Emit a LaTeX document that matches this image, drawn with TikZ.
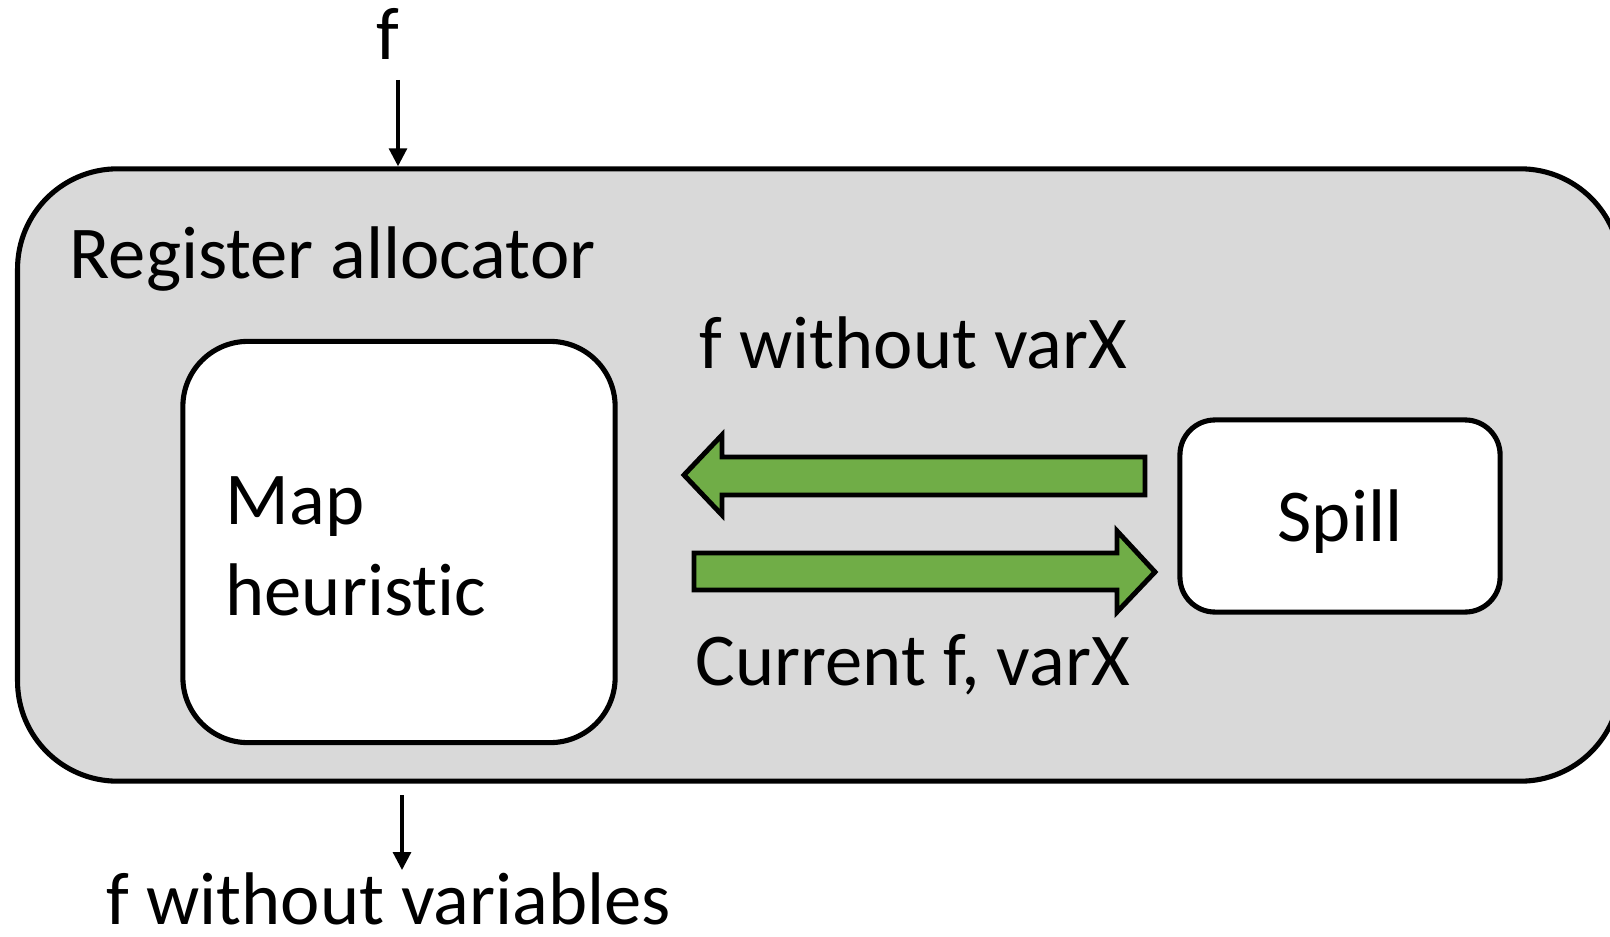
\documentclass[tikz,border=0pt]{standalone}
\usepackage{fontspec}
\setmainfont{Carlito}[Ligatures=NoCommon]
\usetikzlibrary{arrows.meta}
\definecolor{boxgray}{HTML}{D9D9D9}
\definecolor{arrowgreen}{HTML}{70AD47}
\tikzset{
  txt/.style={inner sep=0pt, font=\fontsize{21.2}{25.9}\selectfont},
  rbox/.style={draw=black, line width=1.45pt, fill=white},
  flow/.style={line width=0.9pt, -{Triangle[length=0.18cm, width=0.18cm]}},
  blockarrow/.style={draw=black, line width=1.4pt, fill=arrowgreen, line join=miter}
}
\begin{document}
\begin{tikzpicture}[x=0.01cm, y=-0.01cm]
\useasboundingbox (0,0) rectangle (1610,937);
% outer container
\node (alloc) [rbox, fill=boxgray, rounded corners=1cm, minimum width=16.02cm, minimum height=6.12cm] at (819,475) {};
\node (title) [txt, anchor=base west] at (69,279) {Register allocator};
% inner boxes
\node (map) [rbox, rounded corners=0.65cm, minimum width=4.32cm, minimum height=4.01cm] at (399,542) {};
\node (maplabel) [txt, anchor=base west, text width=3.6cm, align=left] at (225,524) {Map\\heuristic};
\node (spill) [rbox, rounded corners=0.35cm, minimum width=3.2cm, minimum height=1.92cm,
  text depth=0pt, font=\fontsize{21.2}{25.9}\selectfont] at (1340,516) {Spill};
% green block arrows
\draw[blockarrow] (684,475) -- (722,435) -- (722,457) -- (1145,457) -- (1145,495) -- (722,495) -- (722,515) -- cycle;
\draw[blockarrow] (694,553) -- (1117,553) -- (1117,531) -- (1155,572) -- (1117,612) -- (1117,590) -- (694,590) -- cycle;
\node (back) [txt, anchor=base west] at (699,369) {f without varX};
\node (fwd) [txt, anchor=base west] at (695,685) {Current f, varX};
% input / output
\node (fin) [txt, anchor=base] at (388,60) {f};
\node (fout) [txt, anchor=base west] at (106,924) {f without variables};
\coordinate (inStart) at (398,80);
\coordinate (outStart) at (402,795);
\coordinate (outEnd) at (402,870);
\draw[flow] (inStart) -- (inStart |- alloc.north);
\draw[flow] (outStart) -- (outEnd);
\end{tikzpicture}
\end{document}
